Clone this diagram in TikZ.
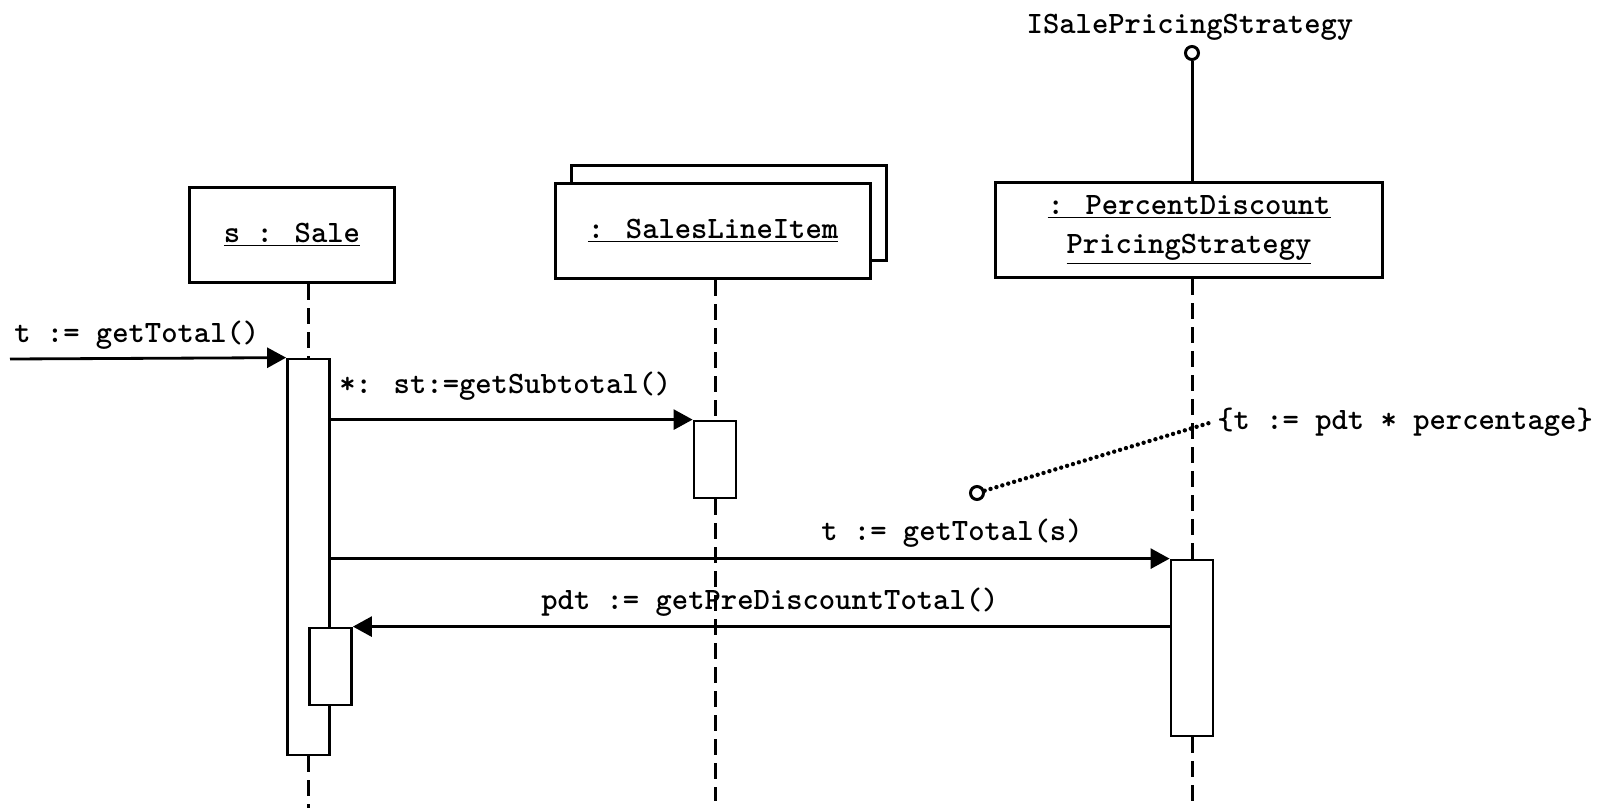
\documentclass[tikz,border=0pt]{standalone}
\usepackage{fontspec}
\newfontfamily\seqtt{Latin Modern Mono Light}
\usepackage{tikz}
\usetikzlibrary{arrows.meta}
\newcommand{\seqfont}{\fontsize{17.7}{22}\selectfont\seqtt\bfseries}
\tikzset{
    objbox/.style={draw, line width=1.7pt, fill=white, minimum width=#1,
        minimum height=1.92cm, inner sep=0pt, align=center, font=\seqfont},
    actbox/.style={draw, line width=1.6pt, fill=white, minimum width=0.84cm,
        minimum height=#1, inner sep=0pt},
    lifeline/.style={line width=1.7pt, dash pattern=on 0.32cm off 0.16cm},
    msg/.style={line width=1.6pt, -{Triangle[length=0.38cm,width=0.4cm]}},
    msglabel/.style={anchor=base west, inner sep=0pt, font=\seqfont},
    lollipop/.style={draw, circle, line width=1.7pt, fill=white, minimum size=0.26cm, inner sep=0pt}
}

\begin{document}
\begin{tikzpicture}[x=0.02cm, y=-0.02cm]
        \useasboundingbox (0,0) rectangle (1610,808);
        % objects
        \node[objbox=4.1cm] (sale) at (292,235) {\underline{s : Sale}};
        \node[objbox=6.32cm] (sliback) at (729,213) {};
        \node[objbox=6.32cm] (sli) at (713,231) {\underline{: SalesLineItem}};
        \node[objbox=7.74cm] (pdps) at (1189,230) {\underline{: PercentDiscount}\\\underline{PricingStrategy}};
        % interface
        \node[font=\seqfont, anchor=base, inner sep=0pt] (iface) at (1190,33) {ISalePricingStrategy};
        \node[lollipop] (ball) at (1192,53) {};
        \draw[line width=1.7pt] (ball) -- (ball |- pdps.north);
        % activations
        \node[actbox=7.92cm] (saleact) at (308.5,557) {};
        \node[actbox=1.54cm] (nested) at (330.5,666.5) {};
        \node[actbox=1.54cm] (sliact) at (715,459.5) {};
        \node[actbox=3.52cm] (pdpsact) at (1192,648) {};
        % lifelines
        \coordinate (saleend) at (308.5,808);
        \coordinate (sliend) at (715,801);
        \coordinate (pdpsend) at (1192,801);
        \draw[lifeline] (saleact |- sale.south) -- (saleact.north);
        \draw[lifeline] (saleact.south) -- (saleend);
        \draw[lifeline] (sliact |- sli.south) -- (sliact.north);
        \draw[lifeline] (sliact.south) -- (sliend);
        \draw[lifeline] (pdpsact |- pdps.south) -- (pdpsact.north);
        \draw[lifeline] (pdpsact.south) -- (pdpsend);
        % messages
        \coordinate (caller) at (10,359);
        \draw[msg] (caller) -- (saleact.north west);
        \node[msglabel] (callLbl) at (14,342) {t := getTotal()};
        \draw[msg] (saleact.east |- sliact.north) -- (sliact.north west);
        \node[msglabel] (subLbl) at (339,393) {*: st:=getSubtotal()};
        \draw[msg] (saleact.east |- pdpsact.north) -- (pdpsact.north west);
        \node[msglabel] (totalLbl) at (821,540) {t := getTotal(s)};
        \draw[msg] (pdpsact.west |- nested.north) -- (nested.north east);
        \node[msglabel] (preLbl) at (541,609) {pdt := getPreDiscountTotal()};
        % constraint note
        \node[lollipop] (noteball) at (977,493) {};
        \node[msglabel] (note) at (1217,429) {\{t := pdt * percentage\}};
        \draw[line width=2.5pt, line cap=round, dash pattern=on 0pt off 3.5pt] (noteball) -- ([xshift=-2pt]note.west);
      \end{tikzpicture}
\end{document}
